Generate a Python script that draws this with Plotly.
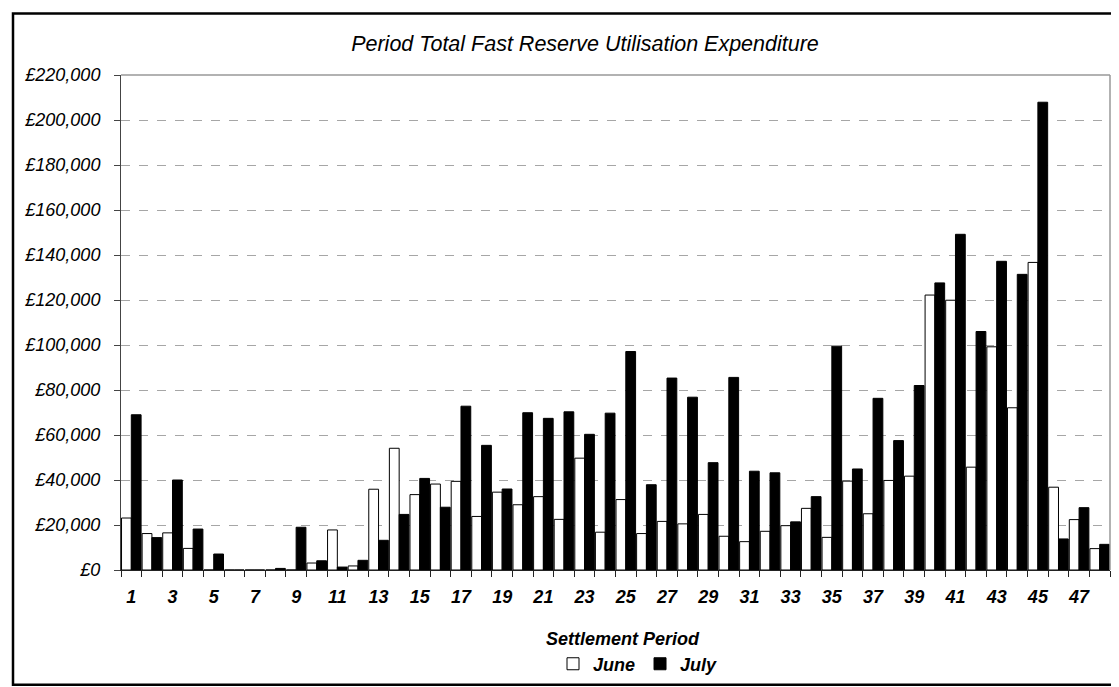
import plotly.graph_objects as go

periods = list(range(1, 49))
june = [23100, 16200, 16500, 9600, 0, 0, 0, 0, 0, 3100,
        17800, 1800, 35900, 54100, 33500, 38200, 39400, 23800, 34600, 29000,
        32600, 22500, 49700, 16800, 31300, 16200, 21600, 20500, 24700, 15000,
        12600, 17200, 19700, 27400, 14500, 39500, 25000, 39800, 41700, 122200,
        119900, 45700, 99200, 72100, 136700, 36800, 22400, 9500]
july = [69000, 14400, 40000, 18200, 7100, 0, 0, 700, 19000, 4100,
        1300, 4300, 13200, 24700, 40700, 27900, 72800, 55400, 36000, 69900,
        67400, 70300, 60300, 69700, 97100, 37900, 85300, 76800, 47700, 85600,
        43900, 43200, 21400, 32600, 99500, 44900, 76300, 57500, 82000, 127600,
        149200, 106000, 137200, 131400, 207900, 13800, 27700, 11400]
x_tick_vals = list(range(1, 49, 2))
x_tick_text = [str(v) for v in x_tick_vals]
y_ticks = list(range(0, 220001, 20000))

FONT = "Liberation Sans, Arial, sans-serif"

fig = go.Figure()
fig.add_trace(go.Bar(x=periods, y=june, name="<b><i>June</i></b>",
                     marker=dict(color="white", line=dict(color="black", width=1))))
fig.add_trace(go.Bar(x=periods, y=july, name="<b><i>July</i></b>",
                     marker=dict(color="black", line=dict(color="black", width=1))))

W, H = 1119, 687
L, R, T, B = 113, 1102, 67, 567
pw, ph = R - L, B - T

def px_x(p):
    return (p - L) / pw

def px_y(p):
    return (B - p) / ph

fig.update_layout(
    width=W, height=H,
    margin=dict(l=L, r=W - R, t=T, b=H - B, pad=0),
    paper_bgcolor="white", plot_bgcolor="white",
    barmode="group", bargap=0.05, bargroupgap=0,
    font=dict(family=FONT, color="black", size=18),
    title=dict(text="<i>Period Total Fast Reserve Utilisation Expenditure</i>",
               x=577 / W, xref="container", xanchor="center",
               y=1 - 35 / H, yref="container", yanchor="middle",
               font=dict(size=21.5, family=FONT, color="black")),
    showlegend=True,
    legend=dict(orientation="h", x=px_x(545), xanchor="left",
                y=px_y(662), yanchor="middle",
                font=dict(size=18, family=FONT, color="black"),
                bgcolor="rgba(0,0,0,0)", itemwidth=30, tracegroupgap=0,
                borderwidth=0),
    xaxis=dict(range=[0.5, 48.5], tickmode="array", tickvals=x_tick_vals,
               ticktext=["<b><i>%s</i></b>" % t for t in x_tick_text],
               ticks="", showgrid=False, zeroline=False,
               showline=True, linecolor="#222222", linewidth=1,
               ticklabelstandoff=10,
               tickfont=dict(size=18, family=FONT, color="black"),
               minor=dict(ticks="outside", tick0=0.5, dtick=1, ticklen=6,
                          tickcolor="#222222", tickwidth=1, showgrid=False)),
    yaxis=dict(range=[0, 220000], tickmode="array", tickvals=y_ticks,
               ticktext=["<i>£{:,}</i>".format(v) for v in y_ticks],
               ticks="outside", ticklen=6, tickcolor="#444444",
               ticklabelstandoff=10,
               showgrid=True, gridcolor="#a6a6a6", griddash="dash", gridwidth=1,
               zeroline=False, showline=True, linecolor="#444444", linewidth=1,
               tickfont=dict(size=18, family=FONT, color="black")),
    shapes=[
        dict(type="line", xref="paper", yref="paper", x0=0, x1=1, y0=1, y1=1,
             line=dict(color="#999999", width=1.5), layer="above"),
        dict(type="line", xref="paper", yref="paper", x0=1, x1=1, y0=0, y1=1,
             line=dict(color="#999999", width=1.5), layer="above"),
        dict(type="rect", xref="paper", yref="paper",
             x0=px_x(5), x1=px_x(1113), y0=px_y(683), y1=px_y(5),
             line=dict(color="black", width=2.5), fillcolor="rgba(0,0,0,0)"),
    ],
    annotations=[
        dict(text="<b><i>Settlement Period</i></b>", xref="paper", yref="paper",
             x=px_x(615), y=px_y(637), xanchor="center", yanchor="middle",
             showarrow=False, font=dict(size=18, family=FONT, color="black")),
    ],
)

fig.write_html("out.html")
